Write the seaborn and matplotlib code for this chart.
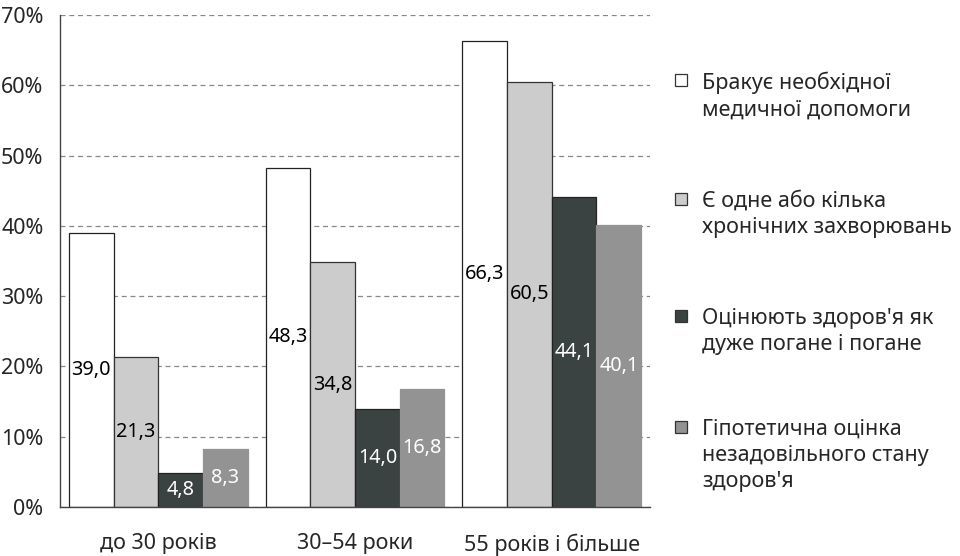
import matplotlib
matplotlib.use("Agg")
import matplotlib.pyplot as plt
from matplotlib.patches import Rectangle
from matplotlib.ticker import FixedLocator
import seaborn as sns
import pandas as pd

# Age groups and the four indicators (% of respondents)
categories = ["до 30 років", "30–54 роки", "55 років і більше"]
series_names = [
    "Бракує необхідної\nмедичної допомоги",
    "Є одне або кілька\nхронічних захворювань",
    "Оцінюють здоров'я як\nдуже погане і погане",
    "Гіпотетична оцінка\nнезадовільного стану\nздоров'я",
]
lack_of_care = [39.0, 48.3, 66.3]
chronic_diseases = [21.3, 34.8, 60.5]
poor_self_rating = [4.8, 14.0, 44.1]
hypothetical_poor = [8.3, 16.8, 40.1]
y_ticks = [0, 10, 20, 30, 40, 50, 60, 70]
y_tick_labels = ["0%", "10%", "20%", "30%", "40%", "50%", "60%", "70%"]

fill_colors = ["#ffffff", "#cccccc", "#3b4342", "#939393"]
edge_colors = ["#222222", "#333333", "#222222", "#939393"]
value_colors = ["black", "black", "white", "white"]

rows = []
for name, vals in zip(series_names, [lack_of_care, chronic_diseases,
                                     poor_self_rating, hypothetical_poor]):
    for cat, v in zip(categories, vals):
        rows.append({"group": cat, "series": name, "value": v})
df = pd.DataFrame(rows)

sns.set_style("white")
plt.rcParams["font.family"] = ["Noto Sans", "DejaVu Sans"]
FS = 15.5
FS_VAL = 14.3

fig = plt.figure(figsize=(9.6, 5.56), dpi=100)
ax = fig.add_axes([60 / 960, 49 / 556, 590 / 960, 492 / 556])

sns.barplot(data=df, x="group", y="value", hue="series",
            order=categories, hue_order=series_names,
            palette=fill_colors, width=0.91, legend=False,
            saturation=1, ax=ax, zorder=2)

for cont, ec, tc in zip(ax.containers, edge_colors, value_colors):
    for bar in cont:
        bar.set_edgecolor(ec)
        bar.set_linewidth(0.9)
    ax.bar_label(cont, labels=[f"{b.get_height():.1f}".replace(".", ",") for b in cont],
                 label_type="center", color=tc, fontsize=FS_VAL)

ax.set_xlim(-0.5, 2.5)
ax.set_ylim(0, 70)
ax.set_yticks(y_ticks)
ax.set_yticklabels(y_tick_labels, fontsize=FS)
ax.set_xticks(range(len(categories)))
ax.set_xticklabels(categories, fontsize=FS)
ax.tick_params(axis="x", length=0, pad=19)
ax.xaxis.set_minor_locator(FixedLocator([-0.5, 0.5, 1.5, 2.5]))
ax.tick_params(axis="x", which="minor", length=6, width=1, color="#444444", direction="out")
ax.tick_params(axis="y", length=6, width=1, color="#444444", direction="out", pad=6)
ax.set_xlabel("")
ax.set_ylabel("")

ax.yaxis.grid(True, linestyle=(0, (4, 3)), color="#888888", linewidth=0.9, zorder=0)
ax.set_axisbelow(True)
for side in ["top", "right"]:
    ax.spines[side].set_visible(False)
for side in ["left", "bottom"]:
    ax.spines[side].set_color("#444444")
    ax.spines[side].set_linewidth(1)

# Legend drawn as square swatches with multi-line captions
entry_tops = [73, 192, 309, 420]
for name, fc, ec, top in zip(series_names, fill_colors, edge_colors, entry_tops):
    fig.add_artist(Rectangle((675 / 960, 1 - (top + 13) / 556), 12 / 960, 12 / 556,
                             transform=fig.transFigure, facecolor=fc,
                             edgecolor="#333333", linewidth=0.9))
    fig.text(702 / 960, 1 - (top - 1) / 556, name, fontsize=FS, va="top", ha="left",
             linespacing=1.3)

fig.savefig("out.png", dpi=100)
